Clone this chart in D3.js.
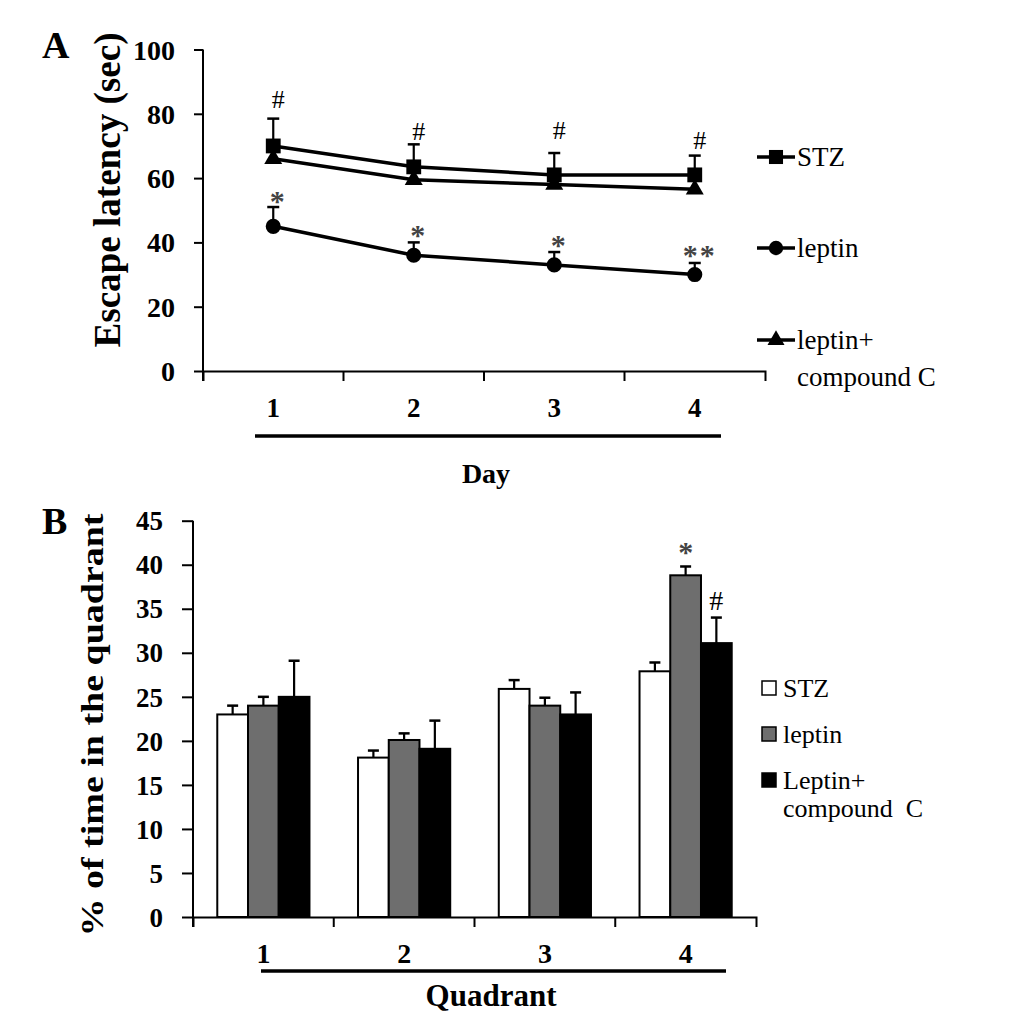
<!DOCTYPE html>
<html>
<head>
<meta charset="utf-8">
<script src="https://cdn.jsdelivr.net/npm/d3@7"></script>
<style>
  body { margin: 0; background: #fff; }
  svg text { font-family: "Liberation Serif", "DejaVu Serif", "Times New Roman", Times, serif; }
</style>
</head>
<body>
<svg id="chart"></svg>
<script>
// ---- panel A data: escape latency (sec) per day
const days = ["1", "2", "3", "4"];
const stzLatency = [70, 63.5, 61, 61];
const stzLatencyErr = [8.5, 7, 6.8, 6];
const leptinLatency = [45, 36, 33, 30];
const leptinLatencyErr = [6, 4, 4, 3.6];
const comboLatency = [66, 59.5, 58, 56.5];
const latencyTicks = [0, 20, 40, 60, 80, 100];
const hashLevelsA = [84.7, 74.8, 75, 71.7];     // "#" above STZ
const starLabelsA = ["*", "*", "*", "**"];
const starLevelsA = [54, 43.7, 40.3, 37.2];     // "*" above leptin

// ---- panel B data: % of time in quadrant
const quadrants = ["1", "2", "3", "4"];
const groups = ["STZ", "leptin", "Leptin+compound C"];
const stzTime = [23, 18.1, 25.9, 27.9];
const stzTimeErr = [1, 0.8, 1, 1];
const leptinTime = [24, 20.1, 24, 38.8];
const leptinTimeErr = [1, 0.75, 0.9, 1];
const comboTime = [25, 19.1, 23, 31.1];
const comboTimeErr = [4.1, 3.2, 2.5, 2.9];
const timeTicks = [0, 5, 10, 15, 20, 25, 30, 35, 40, 45];
const marksB = [
  { quadrant: "4", group: "leptin", label: "*", level: 41.9 },
  { quadrant: "4", group: "Leptin+compound C", label: "#", level: 36 }
];

const FONT = "'Liberation Serif', 'DejaVu Serif', serif";
const width = 1033, height = 1018;
const svg = d3.select("#chart")
  .attr("width", width)
  .attr("height", height)
  .attr("font-family", FONT);

svg.append("rect").attr("width", width).attr("height", height).attr("fill", "#fff");

function styleAxis(g, size) {
  g.attr("font-family", FONT);
  g.selectAll("path, line").attr("stroke", "#000").attr("stroke-width", 2);
  g.selectAll("text")
    .attr("font-family", FONT)
    .attr("font-size", size)
    .attr("font-weight", "bold")
    .attr("fill", "#000");
}

// ================= Panel A =================
const lineSeries = [
  { name: "STZ", values: stzLatency, err: stzLatencyErr, symbol: d3.symbolSquare, size: 220 },
  { name: "leptin", values: leptinLatency, err: leptinLatencyErr, symbol: d3.symbolCircle, size: 180 },
  { name: "leptin+", values: comboLatency, err: null, symbol: d3.symbolTriangle, size: 140 }
];

const xA = d3.scaleBand().domain(days).range([203, 765]);
const yA = d3.scaleLinear().domain([0, 100]).range([371, 49.5]);
const cx = d => xA(d) + xA.bandwidth() / 2;

const gA = svg.append("g");

// y axis
const yAxisA = gA.append("g")
  .attr("transform", "translate(203,0)")
  .call(d3.axisLeft(yA).tickValues(latencyTicks).tickSize(9).tickSizeOuter(0).tickPadding(19));
yAxisA.select(".domain").remove();
styleAxis(yAxisA, 28);
yAxisA.selectAll("text").attr("dy", "0.34em");
gA.append("line")
  .attr("x1", 203).attr("x2", 203)
  .attr("y1", yA(100)).attr("y2", yA(0) + 10)
  .attr("stroke", "#000").attr("stroke-width", 2);

// x axis
const xAxisA = gA.append("g")
  .attr("transform", `translate(0,${yA(0)})`)
  .call(d3.axisBottom(xA).tickSize(0).tickSizeOuter(10));
styleAxis(xAxisA, 27);
xAxisA.selectAll(".tick text").attr("y", 46).attr("dy", null);
xAxisA.selectAll(".boundary")
  .data(days.slice(1))
  .join("line")
  .attr("x1", d => xA(d)).attr("x2", d => xA(d))
  .attr("y1", 0).attr("y2", 10)
  .attr("stroke", "#000").attr("stroke-width", 2);

// underline + title
gA.append("line")
  .attr("x1", 255).attr("x2", 721)
  .attr("y1", 436).attr("y2", 436)
  .attr("stroke", "#000").attr("stroke-width", 3.5);
gA.append("text")
  .attr("x", 486).attr("y", 483)
  .attr("text-anchor", "middle")
  .attr("font-size", 28).attr("font-weight", "bold")
  .text("Day");

gA.append("text")
  .attr("transform", "translate(120,190) rotate(-90)")
  .attr("text-anchor", "middle")
  .attr("font-size", 37).attr("font-weight", "bold")
  .attr("textLength", 315).attr("lengthAdjust", "spacingAndGlyphs")
  .text("Escape latency (sec)");

gA.append("text")
  .attr("x", 42).attr("y", 58)
  .attr("font-size", 38).attr("font-weight", "bold")
  .text("A");

const line = d3.line()
  .x((v, i) => cx(days[i]))
  .y(v => yA(v));

lineSeries.forEach(s => {
  gA.append("path")
    .attr("d", line(s.values))
    .attr("fill", "none")
    .attr("stroke", "#000")
    .attr("stroke-width", 3.5);

  if (s.err) {
    const eb = gA.append("g");
    s.values.forEach((v, i) => {
      const x = cx(days[i]);
      eb.append("line")
        .attr("x1", x).attr("x2", x)
        .attr("y1", yA(v)).attr("y2", yA(v + s.err[i]))
        .attr("stroke", "#000").attr("stroke-width", 2.2);
      eb.append("line")
        .attr("x1", x - 6).attr("x2", x + 6)
        .attr("y1", yA(v + s.err[i])).attr("y2", yA(v + s.err[i]))
        .attr("stroke", "#000").attr("stroke-width", 2.5);
    });
  }

  gA.append("g")
    .selectAll("path")
    .data(s.values)
    .join("path")
    .attr("transform", (v, i) => `translate(${cx(days[i])},${yA(v)})`)
    .attr("d", d3.symbol().type(s.symbol).size(s.size))
    .attr("fill", "#000");
});

// significance marks
gA.append("g")
  .selectAll("text")
  .data(hashLevelsA)
  .join("text")
  .attr("x", (v, i) => cx(days[i]) + 5)
  .attr("y", v => yA(v) + 9)
  .attr("text-anchor", "middle")
  .attr("font-size", 26)
  .text("#");

gA.append("g")
  .selectAll("text")
  .data(starLevelsA)
  .join("text")
  .attr("x", (v, i) => cx(days[i]) + 5)
  .attr("y", v => yA(v) + 14)
  .attr("text-anchor", "middle")
  .attr("font-size", 30)
  .attr("font-weight", "bold")
  .attr("fill", "#444")
  .attr("letter-spacing", 2)
  .text((v, i) => starLabelsA[i]);

// legend A
const legendA = gA.append("g");
const legendRowsA = [157, 248, 340];
lineSeries.forEach((s, i) => {
  const y = legendRowsA[i];
  legendA.append("line")
    .attr("x1", 757).attr("x2", 795)
    .attr("y1", y).attr("y2", y)
    .attr("stroke", "#000").attr("stroke-width", 3.5);
  legendA.append("path")
    .attr("transform", `translate(776,${y})`)
    .attr("d", d3.symbol().type(s.symbol).size(s.size * 0.9))
    .attr("fill", "#000");
  legendA.append("text")
    .attr("x", 797).attr("y", y + 9)
    .attr("font-size", 27)
    .text(s.name);
});
legendA.append("text")
  .attr("x", 797).attr("y", 386)
  .attr("font-size", 27)
  .text("compound C");

// ================= Panel B =================
const barSeries = [
  { name: groups[0], values: stzTime, err: stzTimeErr, fill: "#fff" },
  { name: groups[1], values: leptinTime, err: leptinTimeErr, fill: "#6e6e6e" },
  { name: groups[2], values: comboTime, err: comboTimeErr, fill: "#000" }
];

const xB = d3.scaleBand().domain(quadrants).range([193, 756]);
const xSub = d3.scaleBand().domain(groups).range([0, xB.bandwidth()]).paddingOuter(0.79);
const yB = d3.scaleLinear().domain([0, 45]).range([917, 520.7]);

const gB = svg.append("g");

barSeries.forEach(s => {
  const g = gB.append("g");
  g.selectAll("rect")
    .data(s.values)
    .join("rect")
    .attr("x", (v, i) => xB(quadrants[i]) + xSub(s.name))
    .attr("y", v => yB(v))
    .attr("width", xSub.bandwidth())
    .attr("height", v => yB(0) - yB(v))
    .attr("fill", s.fill)
    .attr("stroke", "#000")
    .attr("stroke-width", 2);

  s.values.forEach((v, i) => {
    const x = xB(quadrants[i]) + xSub(s.name) + xSub.bandwidth() / 2;
    g.append("line")
      .attr("x1", x).attr("x2", x)
      .attr("y1", yB(v)).attr("y2", yB(v + s.err[i]))
      .attr("stroke", "#000").attr("stroke-width", 2.2);
    g.append("line")
      .attr("x1", x - 5.5).attr("x2", x + 5.5)
      .attr("y1", yB(v + s.err[i])).attr("y2", yB(v + s.err[i]))
      .attr("stroke", "#000").attr("stroke-width", 2.5);
  });
});

const yAxisB = gB.append("g")
  .attr("transform", "translate(193,0)")
  .call(d3.axisLeft(yB).tickValues(timeTicks).tickSize(11).tickSizeOuter(0).tickPadding(19));
yAxisB.select(".domain").remove();
styleAxis(yAxisB, 27);
yAxisB.selectAll("text").attr("dy", "0.34em");
gB.append("line")
  .attr("x1", 193).attr("x2", 193)
  .attr("y1", yB(45)).attr("y2", yB(0) + 10)
  .attr("stroke", "#000").attr("stroke-width", 2);

const xAxisB = gB.append("g")
  .attr("transform", `translate(0,${yB(0)})`)
  .call(d3.axisBottom(xB).tickSize(0).tickSizeOuter(10));
styleAxis(xAxisB, 28);
xAxisB.selectAll(".tick text").attr("y", 46).attr("dy", null);
xAxisB.selectAll(".boundary")
  .data(quadrants.slice(1))
  .join("line")
  .attr("x1", d => xB(d)).attr("x2", d => xB(d))
  .attr("y1", 0).attr("y2", 10)
  .attr("stroke", "#000").attr("stroke-width", 2);

gB.append("line")
  .attr("x1", 261).attr("x2", 726)
  .attr("y1", 971).attr("y2", 971)
  .attr("stroke", "#000").attr("stroke-width", 3.5);
gB.append("text")
  .attr("x", 491).attr("y", 1006)
  .attr("text-anchor", "middle")
  .attr("font-size", 31).attr("font-weight", "bold")
  .text("Quadrant");

gB.append("text")
  .attr("transform", "translate(103,725) rotate(-90)")
  .attr("text-anchor", "middle")
  .attr("font-size", 32).attr("font-weight", "bold")
  .attr("textLength", 423).attr("lengthAdjust", "spacingAndGlyphs")
  .text("% of time in the quadrant");

gB.append("text")
  .attr("x", 42).attr("y", 534)
  .attr("font-size", 38).attr("font-weight", "bold")
  .text("B");

gB.append("g")
  .selectAll("text")
  .data(marksB)
  .join("text")
  .attr("x", d => xB(d.quadrant) + xSub(d.group) + xSub.bandwidth() / 2)
  .attr("y", d => yB(d.level) + (d.label === "*" ? 14 : 10))
  .attr("text-anchor", "middle")
  .attr("font-size", d => d.label === "*" ? 30 : 28)
  .attr("font-weight", d => d.label === "*" ? "bold" : "normal")
  .attr("fill", d => d.label === "*" ? "#444" : "#000")
  .text(d => d.label);

// legend B
const legendB = gB.append("g");
const legendRowsB = [697, 743, 789];
barSeries.forEach((s, i) => {
  const y = legendRowsB[i];
  legendB.append("rect")
    .attr("x", 762).attr("y", y - 16)
    .attr("width", 14).attr("height", 14)
    .attr("fill", s.fill)
    .attr("stroke", "#000").attr("stroke-width", 1.5);
  legendB.append("text")
    .attr("x", 783).attr("y", y)
    .attr("font-size", 26)
    .text(i === 2 ? "Leptin+" : s.name);
});
legendB.append("text")
  .attr("x", 783).attr("y", 817)
  .attr("font-size", 26)
  .style("white-space", "pre")
  .text("compound  C");
</script>
</body>
</html>
